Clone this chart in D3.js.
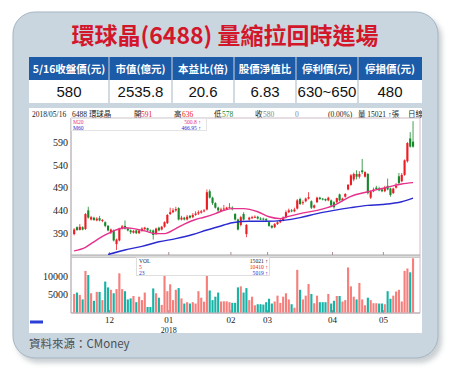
<!DOCTYPE html>
<html>
<head>
<meta charset="utf-8">
<script src="https://cdn.jsdelivr.net/npm/d3@7"></script>
<style>
  body { margin: 0; background: #fff; }
  svg { display: block; }
</style>
</head>
<body>
<div id="vis"></div>
<script>
var titleText = "環球晶(6488) 量縮拉回時進場";
var tableHeaders = ["5/16收盤價(元)", "市值(億元)", "本益比(倍)", "股價淨值比", "停利價(元)", "停損價(元)"];
var tableValues = ["580", "2535.8", "20.6", "6.83", "630~650", "480"];

// daily candles, 2017/11/14 .. 2018/05/16
var opens = [388,403,397,403,399,440,420,424,418,423,417,414,406,392,396,366,374,400,406,400,
  396,391,396,390,395,399,401,396,396,388,402,398,404,412,432,436,440,445,420,424,
  420,428,425,430,433,435,438,442,482,468,456,446,439,442,443,446,446,432,420,408,
  432,388,420,423,425,426,422,422,421,414,406,403,410,414,418,425,436,440,438,444,
  465,456,460,466,460,446,458,468,466,465,462,462,458,458,475,462,470,486,496,508,
  520,514,528,514,520,468,482,490,488,486,482,494,488,478,490,515,504,518,548,598,591];
var highs = [401,405,410,405,434,448,428,426,425,428,421,416,408,400,398,378,402,408,418,402,
  398,397,398,398,403,404,402,398,398,402,404,406,416,432,446,445,448,447,428,426,
  430,430,434,438,440,441,443,486,486,470,458,448,446,452,448,456,449,434,422,428,
  436,410,426,428,429,428,425,424,423,416,408,412,416,422,427,440,444,443,446,465,
  468,462,468,480,462,453,470,470,467,466,470,464,460,468,477,468,478,498,520,523,
  528,526,553,526,522,484,490,494,492,488,494,510,490,490,500,522,522,552,590,612,636];
var lows = [385,395,396,396,397,422,418,417,416,416,414,403,394,388,372,353,372,398,398,394,
  388,389,388,388,393,396,394,392,376,386,394,396,402,410,430,434,437,418,418,418,
  418,422,423,428,430,433,436,440,466,452,444,436,437,440,441,444,440,418,396,405,
  418,381,418,421,423,420,419,418,416,404,400,401,408,412,416,423,434,436,436,442,
  452,452,458,464,443,444,456,463,462,460,460,448,444,456,460,460,468,484,494,504,
  508,510,520,512,475,465,480,485,482,480,480,484,470,476,488,498,502,516,545,578,578];
var closes = [398,397,404,398,432,424,425,419,422,418,419,406,396,398,374,376,400,405,400,396,
  392,395,390,396,400,402,396,394,386,400,396,404,414,430,436,440,443,420,424,420,
  426,424,430,433,436,438,440,480,468,456,446,440,442,444,446,447,443,420,398,425,
  420,408,424,425,426,422,421,420,418,406,402,410,414,418,424,436,440,438,442,462,
  454,458,466,469,446,451,468,465,464,462,468,451,447,467,462,466,476,496,517,520,
  514,520,524,524,478,482,486,487,484,482,490,486,474,488,494,500,518,550,588,580,580];
var volumes = [5140,5520,4860,3620,11520,10380,5330,3240,5710,5710,3430,8570,6950,6290,5330,6480,10860,6480,5900,3620,
  3900,4570,2860,4380,3430,5520,1520,1520,6670,5330,4100,2100,10100,5900,7810,3430,6290,6760,3900,2480,
  2860,2480,2860,2480,5900,4100,3000,10290,6100,3430,4380,5520,3050,3100,3100,2860,2670,2670,6950,7240,
  5520,6760,3430,4380,2000,2290,2290,2200,2860,3810,2480,3050,4670,2670,4380,5330,3620,2290,1330,11810,
  6290,3620,4670,7900,5140,2570,4670,2860,2860,2860,5140,2480,3240,4570,4570,3050,3430,12480,7240,4380,
  3620,8190,3620,2000,4100,3430,2570,2570,2480,2480,2290,5900,3810,4670,5810,6290,3050,11520,12190,11140,15021];

// moving averages (day index, value)
var ma20Days = [0,4,7,11,14,18,21,25,29,32,36,39,43,46,50,53,56,60,65,69,73,76,80,86,92,98,104,109,116,120];
var ma20Values = [351,359,371,386,395,402,400,395,389,389,400,410,420,425,433,440,444,444,437,426,422,427,433,440,451,471,481,488,498,501];
var ma60Days = [12,18,24,30,36,42,47,51,56,62,68,74,80,86,92,98,104,109,116,120];
var ma60Values = [343,353,361,371,378,387,397,404,413,416,416,418,424,433,440,446,451,453,459,467];

var monthStarts = [13,34,56,69,92,110];
var monthLabels = ["12","01","02","03","04","05"];
var priceTicks = [390,440,490,540,590];
var volumeTicks = [5000,10000];

var upColor = "#ec1c24",
    downColor = "#16882c",
    volUpColor = "#f67f7c",
    volDownColor = "#16b3a6",
    ma20Color = "#e5318c",
    ma60Color = "#2a2ad0",
    cjk = "'Noto Sans CJK TC', 'Noto Sans', sans-serif",
    serif = "'Liberation Serif', 'DejaVu Serif', serif";

var svg = d3.select("#vis").append("svg")
    .attr("width", 450)
    .attr("height", 373);

var defs = svg.append("defs");
defs.append("filter")
    .attr("id", "blur")
    .append("feGaussianBlur")
    .attr("stdDeviation", 2.5);
defs.append("clipPath")
    .attr("id", "plotclip")
    .append("rect")
    .attr("x", 71).attr("y", 118).attr("width", 349).attr("height", 137);
defs.append("clipPath")
    .attr("id", "boxclip")
    .append("rect")
    .attr("x", 29).attr("y", 108).attr("width", 393).attr("height", 225);

drawPanel();
drawTable();
drawChart();

function drawPanel() {
  svg.append("rect")
    .attr("x", 16).attr("y", 16)
    .attr("width", 426).attr("height", 347)
    .attr("rx", 22)
    .attr("fill", "#8d979f")
    .attr("opacity", 0.45)
    .attr("filter", "url(#blur)");

  svg.append("rect")
    .attr("x", 13).attr("y", 12)
    .attr("width", 425).attr("height", 346)
    .attr("rx", 22)
    .attr("fill", "#cad6df")
    .attr("stroke", "#a3b5c3")
    .attr("stroke-width", 1);

  svg.append("text")
    .attr("x", 225).attr("y", 44)
    .attr("text-anchor", "middle")
    .style("font-family", cjk)
    .style("font-weight", "bold")
    .style("font-size", "23px")
    .style("fill", "#d3172b")
    .text(titleText);

  svg.append("text")
    .attr("x", 29).attr("y", 348)
    .style("font-family", cjk)
    .style("font-size", "11.5px")
    .style("fill", "#4a4f55")
    .text("資料來源：CMoney");
}

function drawTable() {
  var edges = [29, 109, 172, 234, 296, 358, 422];

  svg.append("rect")
    .attr("x", 29).attr("y", 57)
    .attr("width", 393).attr("height", 23)
    .attr("fill", "#1c5ba7");
  svg.append("rect")
    .attr("x", 29).attr("y", 80)
    .attr("width", 393).attr("height", 23)
    .attr("fill", "#fff");

  svg.selectAll("line.sep")
    .data(edges.slice(1, -1))
    .enter().append("line")
    .attr("class", "sep")
    .attr("x1", function(d) { return d; })
    .attr("x2", function(d) { return d; })
    .attr("y1", 57).attr("y2", 103)
    .attr("stroke", "#b4c3cf")
    .attr("stroke-width", 1.2);

  svg.selectAll("text.head")
    .data(tableHeaders)
    .enter().append("text")
    .attr("class", "head")
    .attr("x", function(d, i) { return (edges[i] + edges[i + 1]) / 2; })
    .attr("y", 72.5)
    .attr("text-anchor", "middle")
    .style("font-family", cjk)
    .style("font-weight", "bold")
    .style("font-size", "10.5px")
    .style("fill", "#fff")
    .text(function(d) { return d; });

  svg.selectAll("text.val")
    .data(tableValues)
    .enter().append("text")
    .attr("class", "val")
    .attr("x", function(d, i) { return (edges[i] + edges[i + 1]) / 2; })
    .attr("y", 97)
    .attr("text-anchor", "middle")
    .style("font-family", "'Liberation Sans', Arial, sans-serif")
    .style("font-size", "15px")
    .style("fill", "#111")
    .text(function(d) { return d; });
}

function drawChart() {
  var n = opens.length;
  var x = d3.scaleBand()
    .domain(d3.range(n))
    .range([73.1, 414.1])
    .paddingInner(0.25);
  var cx = function(i) { return x(i) + x.bandwidth() / 2; };
  var monthX = function(i) { return cx(i) - x.step() / 2; };

  var yP = d3.scaleLinear().domain([342, 643]).range([255, 118]);
  var yV = d3.scaleLinear().domain([0, 15400]).range([312.5, 256.9]);

  svg.append("rect")
    .attr("x", 29).attr("y", 108)
    .attr("width", 393).attr("height", 225)
    .attr("fill", "#fff");

  // header line
  var info = svg.append("g")
    .attr("clip-path", "url(#boxclip)")
    .style("font-family", serif + ", " + cjk)
    .style("font-size", "7.5px")
    .style("fill", "#222");
  var infoItems = [
    {x: 32, t: "2018/05/16"}, {x: 72, t: "6488 環球晶"},
    {x: 134, t: "開"}, {x: 141, t: "591", c: upColor},
    {x: 174, t: "高"}, {x: 182, t: "636", c: upColor},
    {x: 214, t: "低"}, {x: 222, t: "578", c: downColor},
    {x: 255, t: "收"}, {x: 263, t: "580", c: "#888"},
    {x: 295, t: "0", c: "#888"}, {x: 328, t: "(0.00%)"},
    {x: 358, t: "量 15021 ↑張"}, {x: 408, t: "日線"}
  ];
  info.selectAll("text")
    .data(infoItems)
    .enter().append("text")
    .attr("x", function(d) { return d.x; })
    .attr("y", 116.5)
    .style("fill", function(d) { return d.c || "#222"; })
    .text(function(d) { return d.t; });

  // frames
  svg.append("rect")
    .attr("x", 71).attr("y", 255)
    .attr("width", 349).attr("height", 2.5)
    .attr("fill", "#dcdcdc");
  svg.append("path")
    .attr("d", "M71,118H420V313H71Z")
    .attr("fill", "none")
    .attr("stroke", "#cdbcc6")
    .attr("stroke-width", 1);
  svg.append("line")
    .attr("x1", 71).attr("x2", 420).attr("y1", 255).attr("y2", 255)
    .attr("stroke", "#a8a8a8");
  svg.append("line")
    .attr("x1", 71).attr("x2", 420).attr("y1", 257.5).attr("y2", 257.5)
    .attr("stroke", "#c8c8c8");
  svg.append("line")
    .attr("x1", 71).attr("x2", 420).attr("y1", 313).attr("y2", 313)
    .attr("stroke", "#b8a8b0");
  svg.append("line")
    .attr("x1", 71).attr("x2", 71).attr("y1", 118).attr("y2", 313)
    .attr("stroke", "#b8b8b8");

  // month ticks
  [255, 313].forEach(function(base) {
    svg.selectAll(null)
      .data(monthStarts)
      .enter().append("line")
      .attr("x1", function(d) { return monthX(d); })
      .attr("x2", function(d) { return monthX(d); })
      .attr("y1", base - 3).attr("y2", base)
      .attr("stroke", "#b08a9a");
  });

  // axes
  var pAxis = svg.append("g")
    .attr("transform", "translate(71,0)")
    .call(d3.axisLeft(yP).tickValues(priceTicks).tickSize(0).tickPadding(3));
  var vAxis = svg.append("g")
    .attr("transform", "translate(71,0)")
    .call(d3.axisLeft(yV).tickValues(volumeTicks).tickSize(0).tickPadding(3).tickFormat(d3.format("d")));
  [pAxis, vAxis].forEach(function(g) {
    g.select(".domain").remove();
    g.selectAll("text")
      .style("font-family", serif)
      .style("font-size", "10px")
      .style("fill", "#222");
  });

  svg.selectAll("text.month")
    .data(monthLabels)
    .enter().append("text")
    .attr("class", "month")
    .attr("x", function(d, i) { return monthX(monthStarts[i]); })
    .attr("y", 322.5)
    .attr("text-anchor", "middle")
    .style("font-family", serif)
    .style("font-size", "9px")
    .style("fill", "#222")
    .text(function(d) { return d; });
  svg.append("text")
    .attr("x", monthX(monthStarts[1]))
    .attr("y", 332.5)
    .attr("text-anchor", "middle")
    .style("font-family", serif)
    .style("font-size", "8px")
    .style("fill", "#222")
    .text("2018");

  svg.append("rect")
    .attr("x", 30).attr("y", 320.5)
    .attr("width", 13).attr("height", 3)
    .attr("fill", "#2b3fd8");

  // volume bars
  svg.append("g").selectAll("rect")
    .data(volumes)
    .enter().append("rect")
    .attr("x", function(d, i) { return x(i); })
    .attr("width", x.bandwidth())
    .attr("y", function(d) { return yV(d); })
    .attr("height", function(d) { return yV(0) - yV(d); })
    .attr("fill", function(d, i) {
      var up = i == 0 ? closes[i] >= opens[i] : closes[i] >= closes[i - 1];
      return up ? volUpColor : volDownColor;
    });

  // candles
  var plot = svg.append("g").attr("clip-path", "url(#plotclip)");
  var candle = plot.selectAll("g.candle")
    .data(d3.range(n))
    .enter().append("g")
    .attr("class", "candle");
  candle.append("line")
    .attr("x1", cx).attr("x2", cx)
    .attr("y1", function(i) { return yP(highs[i]); })
    .attr("y2", function(i) { return yP(lows[i]); })
    .attr("stroke", function(i) { return closes[i] >= opens[i] ? upColor : downColor; })
    .attr("stroke-width", 0.8);
  candle.append("rect")
    .attr("x", function(i) { return x(i); })
    .attr("width", x.bandwidth())
    .attr("y", function(i) { return yP(Math.max(opens[i], closes[i])); })
    .attr("height", function(i) { return Math.max(1, Math.abs(yP(opens[i]) - yP(closes[i]))); })
    .attr("fill", function(i) { return closes[i] >= opens[i] ? upColor : downColor; });

  // moving averages
  var line = d3.line()
    .x(function(d) { return cx(d[0]); })
    .y(function(d) { return yP(d[1]); })
    .curve(d3.curveMonotoneX);
  plot.append("path")
    .attr("d", line(d3.zip(ma60Days, ma60Values)))
    .attr("fill", "none")
    .attr("stroke", ma60Color)
    .attr("stroke-width", 1.4);
  plot.append("path")
    .attr("d", line(d3.zip(ma20Days, ma20Values)))
    .attr("fill", "none")
    .attr("stroke", ma20Color)
    .attr("stroke-width", 1.4);

  // legends
  var leg = svg.append("g")
    .style("font-family", serif)
    .style("font-size", "5.6px");
  leg.append("rect")
    .attr("x", 71.5).attr("y", 118.5)
    .attr("width", 135).attr("height", 12)
    .attr("fill", "#fff")
    .attr("stroke", "#e4e4e4");
  leg.append("text").attr("x", 73).attr("y", 123.6).style("fill", ma20Color).text("M20");
  leg.append("text").attr("x", 73).attr("y", 129.6).style("fill", ma60Color).text("M60");
  leg.append("text").attr("x", 201).attr("y", 123.6).attr("text-anchor", "end").style("fill", ma20Color).text("500.8 ↑");
  leg.append("text").attr("x", 201).attr("y", 129.6).attr("text-anchor", "end").style("fill", ma60Color).text("466.95 ↑");

  var vleg = svg.append("g")
    .style("font-family", serif)
    .style("font-size", "5.6px");
  vleg.append("rect")
    .attr("x", 136.5).attr("y", 257.5)
    .attr("width", 133).attr("height", 18)
    .attr("fill", "#fff")
    .attr("stroke", "#dedede");
  vleg.append("text").attr("x", 139).attr("y", 262.6).style("fill", "#222").text("VOL");
  vleg.append("text").attr("x", 139).attr("y", 268.6).style("fill", upColor).text("5");
  vleg.append("text").attr("x", 139).attr("y", 274.6).style("fill", ma60Color).text("23");
  vleg.append("text").attr("x", 268).attr("y", 262.6).attr("text-anchor", "end").style("fill", "#222").text("15021 ↑");
  vleg.append("text").attr("x", 268).attr("y", 268.6).attr("text-anchor", "end").style("fill", upColor).text("10410 ↑");
  vleg.append("text").attr("x", 268).attr("y", 274.6).attr("text-anchor", "end").style("fill", ma60Color).text("5019 ↑");
}
</script>
</body>
</html>
